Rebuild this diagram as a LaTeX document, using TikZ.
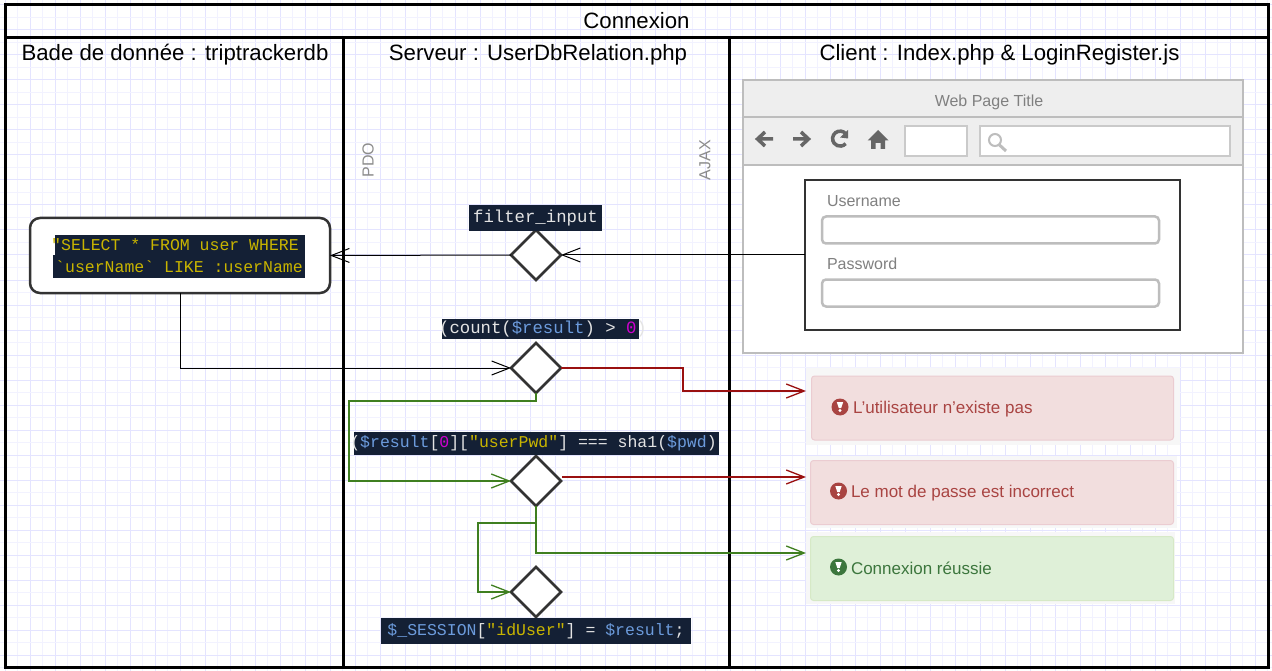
\documentclass[tikz,border=0pt]{standalone}
\usepackage{fontspec}
\usepackage{xcolor}
\usetikzlibrary{arrows.meta,shapes.geometric}
\setmainfont{Liberation Sans}
\newfontfamily\codefont{Liberation Mono}
\definecolor{gridmajor}{HTML}{E4E4FF}
\definecolor{gridminor}{HTML}{F2F2FF}
\definecolor{darkline}{HTML}{333333}
\definecolor{codebg}{HTML}{142035}
\definecolor{codetxt}{HTML}{E4E4E4}
\definecolor{codevar}{HTML}{6C9BDC}
\definecolor{codestr}{HTML}{C8B400}
\definecolor{codenum}{HTML}{D000D0}
\definecolor{mockline}{HTML}{BDBDBD}
\definecolor{mockfill}{HTML}{EEEEEE}
\definecolor{mocktxt}{HTML}{808080}
\definecolor{mockicon}{HTML}{666666}
\definecolor{badfill}{HTML}{F2DEDE}
\definecolor{badline}{HTML}{EBCCD1}
\definecolor{badtxt}{HTML}{A94442}
\definecolor{goodfill}{HTML}{DFF0D8}
\definecolor{goodline}{HTML}{D6E9C6}
\definecolor{goodtxt}{HTML}{3C763D}
\definecolor{redflow}{HTML}{9A1010}
\definecolor{greenflow}{HTML}{3F7F20}
\newcommand{\codevar}[1]{\textcolor{codevar}{#1}}
\newcommand{\codestr}[1]{\textcolor{codestr}{#1}}
\newcommand{\codenum}[1]{\textcolor{codenum}{#1}}
\def\gridsep{25}

\begin{document}
\begin{tikzpicture}[x=1pt,y=-1pt,>={Straight Barb[length=18pt,width=14pt]}]
	\tikzstyle{every node}=[outer sep=0pt,inner sep=0pt]
	\tikzstyle{lane}=[draw=black,line width=3pt,anchor=north west]
	\tikzstyle{lane title}=[font=\fontsize{22.2}{24}\selectfont]
	\tikzstyle{side label}=[rotate=90,text=black!45,font=\fontsize{16}{18}\selectfont]
	\tikzstyle{test}=[diamond,aspect=1,draw=darkline,fill=white,line width=2.5pt,minimum width=50pt,minimum height=50pt]
	\tikzstyle{code}=[fill=codebg,text=codetxt,font=\codefont\fontsize{16.5}{18}\selectfont]
	\tikzstyle{code wide}=[code,font=\codefont\fontsize{17.3}{18}\selectfont]
	\tikzstyle{mock}=[draw=mockline,line width=2.5pt,anchor=north west]
	\tikzstyle{mock input}=[draw=mockline!80,fill=white,line width=1.5pt,anchor=north west]
	\tikzstyle{mock field}=[draw=mockline,fill=white,line width=2.5pt,rounded corners=4pt,minimum width=337pt,minimum height=27pt,anchor=north west]
	\tikzstyle{mock text}=[text=mocktxt,font=\fontsize{16}{18}\selectfont]
	\tikzstyle{halo}=[fill=black!3,anchor=north west]
	\tikzstyle{bad}=[fill=badfill,draw=badline,line width=1pt,rounded corners=3pt,anchor=north west]
	\tikzstyle{good}=[fill=goodfill,draw=goodline,line width=1pt,rounded corners=3pt,anchor=north west]
	\tikzstyle{msg}=[anchor=west,font=\fontsize{17}{19}\selectfont]
	\tikzstyle{flow}=[->,line width=1pt,draw=black]
	\tikzstyle{flow red}=[flow,line width=1.3pt,draw=redflow]
	\tikzstyle{flow green}=[flow,line width=1.3pt,draw=greenflow]

	\useasboundingbox (0,0) rectangle (1272,671);
	\fill[white] (0,0) rectangle (1272,671);

	% Draw the background grid
	\foreach \i in {0,...,101} {
		\draw[gridminor,line width=1pt] (17.5+\i*\gridsep,0) -- (17.5+\i*\gridsep,671);
		\draw[gridmajor,line width=1pt] (5+\i*\gridsep,0) -- (5+\i*\gridsep,671);
	}
	\foreach \i in {0,...,26} {
		\draw[gridminor,line width=1pt] (0,17.5+\i*\gridsep) -- (1272,17.5+\i*\gridsep);
		\draw[gridmajor,line width=1pt] (0,5+\i*\gridsep) -- (1272,5+\i*\gridsep);
	}

	% Draw the lanes
	\node[lane,minimum width=1263pt,minimum height=32.5pt] (head) at (5,5) {};
	\node[lane,minimum width=338.5pt,minimum height=629.5pt] (db) at (5,37.5) {};
	\node[lane,minimum width=386pt,minimum height=629.5pt] (srv) at (343.5,37.5) {};
	\node[lane,minimum width=538.5pt,minimum height=629.5pt] (cli) at (729.5,37.5) {};
	\node[lane title] (headtxt) at (636.5,21) {Connexion};
	\node[lane title] (dbtxt) at (175,54.5) {Bade de donnée : triptrackerdb};
	\node[lane title] (srvtxt) at (538,54.5) {Serveur : UserDbRelation.php};
	\node[lane title] (clitxt) at (999.5,54.5) {Client : Index.php \& LoginRegister.js};
	\node[side label] (pdo) at (368,160) {PDO};
	\node[side label] (ajax) at (705,160) {AJAX};

	% Draw the database box
	\node[draw=darkline,fill=white,line width=2.5pt,rounded corners=10pt,minimum width=300pt,minimum height=75pt] (sql) at (180,255.5) {};
	\node[code,text=codestr,minimum width=250pt,minimum height=20pt] (sqla) at (180,245) {\makebox[250pt][c]{"SELECT * FROM user WHERE\hspace{10pt}}};
	\node[code,text=codestr,minimum width=252pt,minimum height=23pt] (sqlb) at (179,266.5) {`userName` LIKE :userName};

	% Draw the tests of the server
	\node[test] (testa) at (536,255) {};
	\node[test] (testb) at (536,368) {};
	\node[test] (testc) at (536,481) {};
	\node[test] (testd) at (536,592) {};
	\node[code wide,minimum width=133pt,minimum height=26pt] (codea) at (535.5,218) {filter\_input};
	\node[code wide,minimum width=197pt,minimum height=20pt] (codeb) at (540.5,329) {\makebox[197pt][c]{\hspace{5pt}(count(\codevar{\$result}) > \codenum{0})}};
	\node[code,minimum width=365pt,minimum height=23pt] (codec) at (536.5,443.5) {\makebox[365pt][c]{(\codevar{\$result}[\codenum{0}][\codestr{"userPwd"}] === sha1(\codevar{\$pwd})\hspace{6pt}}};
	\node[code,minimum width=310pt,minimum height=26pt] (coded) at (536,631) {\codevar{\$\_SESSION}[\codestr{"idUser"}] = \codevar{\$result};};

	% Draw the browser
	\node[mock,fill=white,minimum width=500pt,minimum height=273pt] (page) at (743,80) {};
	\node[mock,fill=mockfill,minimum width=500pt,minimum height=37pt] (titlebar) at (743,80) {};
	\node[mock,fill=mockfill,minimum width=500pt,minimum height=48pt] (toolbar) at (743,117) {};
	\node[mock text] (pagetitle) at (989,102) {Web Page Title};
	\node[mock input,minimum width=62pt,minimum height=30pt] (addr) at (905,126) {};
	\node[mock input,minimum width=250pt,minimum height=30pt] (search) at (980,126) {};

	% Draw the toolbar icons
	\draw[mockicon,line width=3.5pt] (773,139) -- (757,139) (765,132) -- (757.5,139) -- (765,146);
	\draw[mockicon,line width=3.5pt] (793,139) -- (809,139) (801,132) -- (808.5,139) -- (801,146);
	\draw[mockicon,line width=3.5pt] (846,134) arc[start angle=38,end angle=318,radius=7.5pt];
	\fill[mockicon] (848,130) -- (848,138.5) -- (840,137.5) -- cycle;
	\fill[mockicon] (878,130) -- (888.5,140.5) -- (885,140.5) -- (885,149) -- (880.5,149) -- (880.5,143) -- (875.5,143) -- (875.5,149) -- (871,149) -- (871,140.5) -- (867.5,140.5) -- cycle;
	\draw[mockline,line width=2pt] (995,140) circle[radius=6pt];
	\draw[mockline,line width=3pt] (999.5,145) -- (1006,151);

	% Draw the login form
	\node[draw=darkline,fill=white,line width=2.6pt,minimum width=375pt,minimum height=150pt,anchor=north west] (form) at (805,180) {};
	\node[mock text,anchor=west] (username) at (827,201) {Username};
	\node[mock field] (userfield) at (822,216.5) {};
	\node[mock text,anchor=west] (password) at (827,264) {Password};
	\node[mock field] (pwdfield) at (822,279.5) {};

	% Draw the messages
	\node[halo,minimum width=374pt,minimum height=77pt] (haloa) at (806,368) {};
	\node[halo,minimum width=371pt,minimum height=72pt] (halob) at (806,456) {};
	\node[halo,minimum width=369pt,minimum height=72pt] (haloc) at (806,532) {};
	\node[bad,minimum width=362pt,minimum height=64pt] (msga) at (811.5,376) {};
	\node[bad,minimum width=363pt,minimum height=64pt] (msgb) at (810.5,460.5) {};
	\node[good,minimum width=363pt,minimum height=64pt] (msgc) at (810.5,536.5) {};
	\node[msg,text=badtxt] (msgatxt) at (853,409.5) {L'utilisateur n'existe pas};
	\node[msg,text=badtxt] (msgbtxt) at (851,493.5) {Le mot de passe est incorrect};
	\node[msg,text=goodtxt] (msgctxt) at (851,568.5) {Connexion réussie};
	\foreach \x / \y / \c in {840/407/badtxt,838.5/491/badtxt,838.5/567/goodtxt} {
		\fill[\c] (\x,\y) circle[radius=8.5pt];
		\fill[white] (\x-3.2,\y-5) -- (\x+3.2,\y-5) -- (\x+1.2,\y+1) -- (\x-1.2,\y+1) -- cycle;
		\fill[white] (\x,\y+3.5) circle[radius=1.6pt];
	}

	% Connect the tests and the boxes
	\coordinate (pina) at (806,391);
	\coordinate (pinb) at (806,477);
	\coordinate (pinc) at (806,553);
	\coordinate (startb) at (562,477);
	\draw[flow] (form.west) -- (testa.east);
	\draw[flow] (testa.west) -- (sql.east);
	\draw[flow] (sql.south) |- (testb.west);
	\draw[flow red] (testb.east) -- (683,368) -- (683,391) -- (pina);
	\draw[flow green] (testb.south) -- (536,401) -- (349,401) |- (testc.west);
	\draw[flow red] (startb) -- (pinb);
	\draw[flow green] (testc.south) |- (pinc);
	\draw[flow green] (testc.south) -- (536,523) -- (478,523) |- (testd.west);
\end{tikzpicture}
\end{document}
